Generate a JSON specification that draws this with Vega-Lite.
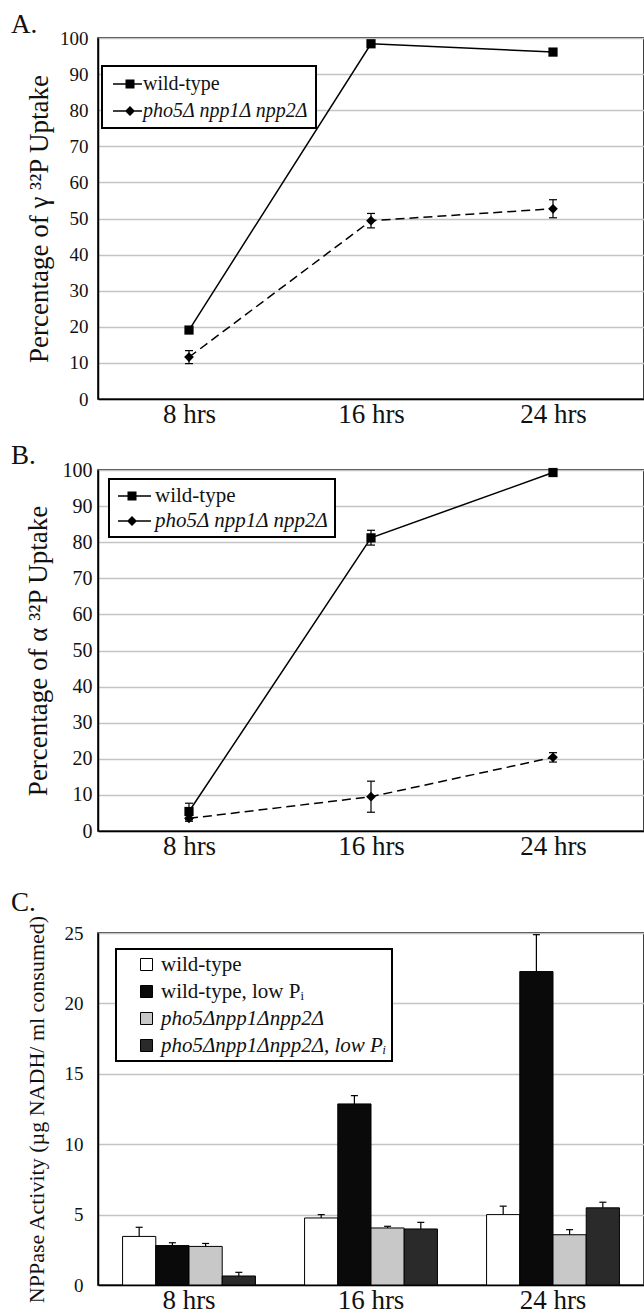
{
  "$schema": "https://vega.github.io/schema/vega-lite/v6.json",
  "background": "white",
  "padding": {"left": 10, "top": 10, "right": 0, "bottom": 0},
  "config": {
    "font": "Liberation Serif",
    "view": {"stroke": "black", "strokeWidth": 1.5},
    "axis": {"labelColor": "#111", "titleColor": "#111", "titleFontWeight": "normal", "domainColor": "black", "domainWidth": 1.5, "gridColor": "#c4c4c4", "gridWidth": 1.5},
    "legend": {"labelColor": "#111", "labelFont": "Liberation Serif", "labelLimit": 0, "strokeWidth": 2},
    "title": {"fontWeight": "normal", "color": "#111", "fontSize": 27, "anchor": "start", "frame": "group"}
  },
  "resolve": {"scale": {"shape": "independent", "fill": "independent"}, "legend": {"shape": "independent", "fill": "independent"}},
  "spacing": 28,
  "vconcat": [
    {
      "spacing": 13,
      "resolve": {"scale": {"shape": "independent"}, "legend": {"shape": "independent"}},
      "vconcat": [
        {
          "width": 546,
          "height": 361,
          "title": {"text": "A.", "dx": -87, "offset": -10},
          "data": {"values": [
            {"time": "8 hrs", "strain": "wild-type", "value": 19.1},
            {"time": "16 hrs", "strain": "wild-type", "value": 98.4},
            {"time": "24 hrs", "strain": "wild-type", "value": 96.1},
            {"time": "8 hrs", "strain": "pho5Δ npp1Δ npp2Δ", "value": 11.6, "lo": 9.8, "hi": 13.4},
            {"time": "16 hrs", "strain": "pho5Δ npp1Δ npp2Δ", "value": 49.4, "lo": 47.4, "hi": 51.4},
            {"time": "24 hrs", "strain": "pho5Δ npp1Δ npp2Δ", "value": 52.7, "lo": 50.2, "hi": 55.2}
          ]},
          "encoding": {
            "x": {"field": "time", "type": "nominal", "sort": ["8 hrs", "16 hrs", "24 hrs"], "scale": {"type": "point", "padding": 0.5},
              "axis": {"title": null, "labelFontSize": 27, "labelPadding": 2, "ticks": false, "labelAngle": 0, "grid": false}},
            "y": {"field": "value", "type": "quantitative", "scale": {"domain": [0, 100], "nice": false},
              "axis": {"title": "Percentage of γ ³²P Uptake", "titleFontSize": 27, "titlePadding": 7, "values": [0, 10, 20, 30, 40, 50, 60, 70, 80, 90, 100], "labelFontSize": 19, "labelPadding": 10, "ticks": false, "minExtent": 38, "maxExtent": 38, "grid": true}}
          },
          "layer": [
            {"transform": [{"filter": "datum.strain == 'wild-type'"}], "mark": {"type": "line", "color": "black", "strokeWidth": 1.5}},
            {"transform": [{"filter": "datum.strain != 'wild-type'"}], "mark": {"type": "line", "color": "black", "strokeWidth": 1.5, "strokeDash": [9, 5]}},
            {"transform": [{"filter": "isValid(datum.lo)"}], "mark": {"type": "rule", "color": "black", "strokeWidth": 1.2},
              "encoding": {"y": {"field": "lo", "type": "quantitative"}, "y2": {"field": "hi"}}},
            {"transform": [{"filter": "isValid(datum.lo)"}], "mark": {"type": "tick", "color": "black", "size": 8, "thickness": 1.2, "opacity": 1},
              "encoding": {"y": {"field": "lo", "type": "quantitative"}}},
            {"transform": [{"filter": "isValid(datum.hi)"}], "mark": {"type": "tick", "color": "black", "size": 8, "thickness": 1.2, "opacity": 1},
              "encoding": {"y": {"field": "hi", "type": "quantitative"}}},
            {"transform": [{"filter": "datum.strain == 'wild-type'"}], "mark": {"type": "point", "shape": "square", "filled": true, "color": "black", "opacity": 1, "size": 85}},
            {"transform": [{"filter": "datum.strain != 'wild-type'"}], "mark": {"type": "point", "shape": "diamond", "filled": true, "color": "black", "opacity": 1, "size": 95}},
            {"transform": [{"filter": "false"}], "mark": {"type": "point", "filled": true, "color": "black", "opacity": 1},
              "encoding": {"shape": {"field": "strain", "type": "nominal", "scale": {"domain": ["wild-type", "pho5Δ npp1Δ npp2Δ"], "range": ["M-0.7,-0.075H2.2V0.075H-0.7ZM0.55,-0.45H1.45V0.45H0.55Z", "M-0.7,-0.075H2.2V0.075H-0.7ZM1,-0.5L1.5,0L1,0.5L0.5,0Z"]},
                "legend": {"title": null, "orient": "none", "legendX": 4, "legendY": 28, "padding": 7, "strokeColor": "black", "fillColor": "white", "labelFontSize": 20, "labelOffset": 12, "rowPadding": 6, "symbolSize": 400, "symbolFillColor": "black", "symbolOpacity": 1,
                  "labelFontStyle": {"expr": "datum.value == 'wild-type' ? 'normal' : 'italic'"}}}}}
          ]
        },
        {
          "width": 546,
          "height": 361,
          "title": {"text": "B.", "dx": -87, "offset": -10},
          "data": {"values": [
            {"time": "8 hrs", "strain": "wild-type", "value": 5.4, "lo": 3.1, "hi": 7.7},
            {"time": "16 hrs", "strain": "wild-type", "value": 81.2, "lo": 79.2, "hi": 83.3},
            {"time": "24 hrs", "strain": "wild-type", "value": 99.3},
            {"time": "8 hrs", "strain": "pho5Δ npp1Δ npp2Δ", "value": 3.5, "lo": 2.7, "hi": 4.3},
            {"time": "16 hrs", "strain": "pho5Δ npp1Δ npp2Δ", "value": 9.5, "lo": 5.2, "hi": 13.8},
            {"time": "24 hrs", "strain": "pho5Δ npp1Δ npp2Δ", "value": 20.4, "lo": 19.1, "hi": 21.7}
          ]},
          "encoding": {
            "x": {"field": "time", "type": "nominal", "sort": ["8 hrs", "16 hrs", "24 hrs"], "scale": {"type": "point", "padding": 0.5},
              "axis": {"title": null, "labelFontSize": 27, "labelPadding": 2, "ticks": false, "labelAngle": 0, "grid": false}},
            "y": {"field": "value", "type": "quantitative", "scale": {"domain": [0, 100], "nice": false},
              "axis": {"title": "Percentage of α ³²P Uptake", "titleFontSize": 27, "titlePadding": 9, "values": [0, 10, 20, 30, 40, 50, 60, 70, 80, 90, 100], "labelFontSize": 20, "labelPadding": 6, "ticks": false, "minExtent": 37, "maxExtent": 37, "grid": true}}
          },
          "layer": [
            {"transform": [{"filter": "datum.strain == 'wild-type'"}], "mark": {"type": "line", "color": "black", "strokeWidth": 1.5}},
            {"transform": [{"filter": "datum.strain != 'wild-type'"}], "mark": {"type": "line", "color": "black", "strokeWidth": 1.5, "strokeDash": [9, 5]}},
            {"transform": [{"filter": "isValid(datum.lo)"}], "mark": {"type": "rule", "color": "black", "strokeWidth": 1.2},
              "encoding": {"y": {"field": "lo", "type": "quantitative"}, "y2": {"field": "hi"}}},
            {"transform": [{"filter": "isValid(datum.lo)"}], "mark": {"type": "tick", "color": "black", "size": 8, "thickness": 1.2, "opacity": 1},
              "encoding": {"y": {"field": "lo", "type": "quantitative"}}},
            {"transform": [{"filter": "isValid(datum.hi)"}], "mark": {"type": "tick", "color": "black", "size": 8, "thickness": 1.2, "opacity": 1},
              "encoding": {"y": {"field": "hi", "type": "quantitative"}}},
            {"transform": [{"filter": "datum.strain == 'wild-type'"}], "mark": {"type": "point", "shape": "square", "filled": true, "color": "black", "opacity": 1, "size": 85}},
            {"transform": [{"filter": "datum.strain != 'wild-type'"}], "mark": {"type": "point", "shape": "diamond", "filled": true, "color": "black", "opacity": 1, "size": 95}},
            {"transform": [{"filter": "false"}], "mark": {"type": "point", "filled": true, "color": "black", "opacity": 1},
              "encoding": {"shape": {"field": "strain", "type": "nominal", "scale": {"domain": ["wild-type", "pho5Δ npp1Δ npp2Δ"], "range": ["M-0.8,-0.075H2.5V0.075H-0.8ZM0.15,-0.45H1.05V0.45H0.15Z", "M-0.8,-0.075H2.5V0.075H-0.8ZM0.6,-0.5L1.1,0L0.6,0.5L0.1,0Z"]},
                "legend": {"title": null, "orient": "none", "legendX": 11, "legendY": 9, "padding": 6, "strokeColor": "black", "fillColor": "white", "labelFontSize": 21, "labelOffset": 18, "rowPadding": 4, "symbolSize": 400, "symbolFillColor": "black", "symbolOpacity": 1,
                  "labelFontStyle": {"expr": "datum.value == 'wild-type' ? 'normal' : 'italic'"}}}}}
          ]
        }
      ]
    },
    {
      "width": 546,
      "height": 352,
      "title": {"text": "C.", "dx": -87, "offset": -2},
      "data": {"values": [
        {"time": "8 hrs", "strain": "wild-type", "value": 3.45, "hi": 4.1},
        {"time": "8 hrs", "strain": "wild-type, low Pᵢ", "value": 2.8, "hi": 3.0},
        {"time": "8 hrs", "strain": "pho5Δnpp1Δnpp2Δ", "value": 2.74, "hi": 2.95},
        {"time": "8 hrs", "strain": "pho5Δnpp1Δnpp2Δ, low Pᵢ", "value": 0.64, "hi": 0.9},
        {"time": "16 hrs", "strain": "wild-type", "value": 4.76, "hi": 5.0},
        {"time": "16 hrs", "strain": "wild-type, low Pᵢ", "value": 12.86, "hi": 13.45},
        {"time": "16 hrs", "strain": "pho5Δnpp1Δnpp2Δ", "value": 4.05, "hi": 4.17},
        {"time": "16 hrs", "strain": "pho5Δnpp1Δnpp2Δ, low Pᵢ", "value": 3.98, "hi": 4.45},
        {"time": "24 hrs", "strain": "wild-type", "value": 5.0, "hi": 5.6},
        {"time": "24 hrs", "strain": "wild-type, low Pᵢ", "value": 22.26, "hi": 24.88},
        {"time": "24 hrs", "strain": "pho5Δnpp1Δnpp2Δ", "value": 3.57, "hi": 3.93},
        {"time": "24 hrs", "strain": "pho5Δnpp1Δnpp2Δ, low Pᵢ", "value": 5.48, "hi": 5.88}
      ]},
      "encoding": {
        "x": {"field": "time", "type": "nominal", "sort": ["8 hrs", "16 hrs", "24 hrs"], "scale": {"type": "band", "paddingInner": 0.27, "paddingOuter": 0.135},
          "axis": {"title": null, "labelFontSize": 27, "labelPadding": 2, "ticks": false, "labelAngle": 0, "grid": false}},
        "xOffset": {"field": "strain", "type": "nominal", "sort": ["wild-type", "wild-type, low Pᵢ", "pho5Δnpp1Δnpp2Δ", "pho5Δnpp1Δnpp2Δ, low Pᵢ"], "scale": {"paddingInner": 0, "paddingOuter": 0}}
      },
      "layer": [
        {"mark": {"type": "bar", "stroke": "black", "strokeWidth": 1, "opacity": 1},
          "encoding": {
            "y": {"field": "value", "type": "quantitative", "scale": {"domain": [0, 25], "nice": false},
              "axis": {"title": "NPPase Activity (µg NADH/ ml consumed)", "titleFontSize": 22, "titlePadding": 14, "values": [0, 5, 10, 15, 20, 25], "labelFontSize": 19, "labelPadding": 15, "ticks": false, "minExtent": 36, "maxExtent": 36, "grid": true}},
            "fill": {"field": "strain", "type": "nominal", "scale": {"domain": ["wild-type", "wild-type, low Pᵢ", "pho5Δnpp1Δnpp2Δ", "pho5Δnpp1Δnpp2Δ, low Pᵢ"], "range": ["white", "#0a0a0a", "#c8c8c8", "#2a2a2a"]},
              "legend": {"title": null, "orient": "none", "legendX": 18, "legendY": 16, "padding": 5, "strokeColor": "black", "fillColor": "white", "labelFontSize": 21, "labelOffset": 19, "rowPadding": 5, "symbolSize": 400, "symbolType": "M0.9,-0.6H2.1V0.6H0.9Z", "symbolStrokeColor": "black", "symbolStrokeWidth": 1, "symbolOpacity": 1,
                "labelFontStyle": {"expr": "indexof(datum.value, 'pho5') >= 0 ? 'italic' : 'normal'"}}}
          }},
        {"mark": {"type": "rule", "color": "black", "strokeWidth": 1.2},
          "encoding": {"y": {"field": "value", "type": "quantitative"}, "y2": {"field": "hi"}}},
        {"mark": {"type": "tick", "color": "black", "size": 7, "thickness": 1.2, "opacity": 1},
          "encoding": {"y": {"field": "hi", "type": "quantitative"}}}
      ]
    }
  ]
}
